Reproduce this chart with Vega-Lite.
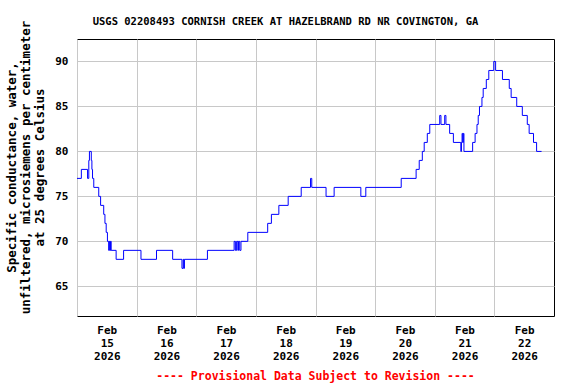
{
  "$schema": "https://vega.github.io/schema/vega-lite/v6.json",
  "width": 477,
  "height": 277,
  "autosize": {"type": "none"},
  "padding": {"left": 77, "top": 39, "right": 22, "bottom": 68},
  "background": "white",
  "title": {
    "text": "USGS 02208493 CORNISH CREEK AT HAZELBRAND RD NR COVINGTON, GA",
    "font": "DejaVu Sans Mono",
    "fontWeight": "bold",
    "fontSize": 10.5,
    "color": "black",
    "anchor": "middle",
    "dx": -30,
    "dy": 20,
    "offset": 13
  },
  "config": {
    "view": {"stroke": "black", "strokeWidth": 1},
    "axis": {
      "labelFont": "DejaVu Sans Mono",
      "labelFontWeight": "bold",
      "labelFontSize": 11,
      "labelColor": "black",
      "titleFont": "DejaVu Sans Mono",
      "titleFontWeight": "bold",
      "titleColor": "black",
      "gridColor": "#c8c8c8",
      "gridWidth": 1,
      "gridOpacity": 1,
      "domain": false,
      "ticks": false
    }
  },
  "data": {
    "values": [
      {"t": "2026-02-15T00:00", "v": 77},
      {"t": "2026-02-15T01:45", "v": 78},
      {"t": "2026-02-15T04:15", "v": 77},
      {"t": "2026-02-15T04:45", "v": 79},
      {"t": "2026-02-15T05:00", "v": 80},
      {"t": "2026-02-15T05:45", "v": 79},
      {"t": "2026-02-15T06:00", "v": 78},
      {"t": "2026-02-15T06:15", "v": 77},
      {"t": "2026-02-15T06:45", "v": 76},
      {"t": "2026-02-15T08:45", "v": 75},
      {"t": "2026-02-15T09:30", "v": 74},
      {"t": "2026-02-15T10:45", "v": 73},
      {"t": "2026-02-15T11:15", "v": 72},
      {"t": "2026-02-15T11:45", "v": 71},
      {"t": "2026-02-15T12:15", "v": 70},
      {"t": "2026-02-15T12:45", "v": 69},
      {"t": "2026-02-15T13:00", "v": 70},
      {"t": "2026-02-15T13:15", "v": 69},
      {"t": "2026-02-15T13:30", "v": 70},
      {"t": "2026-02-15T13:45", "v": 69},
      {"t": "2026-02-15T15:45", "v": 68},
      {"t": "2026-02-15T18:45", "v": 69},
      {"t": "2026-02-16T01:45", "v": 68},
      {"t": "2026-02-16T08:00", "v": 69},
      {"t": "2026-02-16T14:30", "v": 68},
      {"t": "2026-02-16T18:15", "v": 67},
      {"t": "2026-02-16T18:45", "v": 68},
      {"t": "2026-02-16T19:00", "v": 67},
      {"t": "2026-02-16T19:15", "v": 68},
      {"t": "2026-02-17T04:30", "v": 69},
      {"t": "2026-02-17T15:15", "v": 70},
      {"t": "2026-02-17T15:45", "v": 69},
      {"t": "2026-02-17T16:15", "v": 70},
      {"t": "2026-02-17T16:45", "v": 69},
      {"t": "2026-02-17T17:00", "v": 70},
      {"t": "2026-02-17T17:30", "v": 69},
      {"t": "2026-02-17T18:00", "v": 70},
      {"t": "2026-02-17T20:45", "v": 71},
      {"t": "2026-02-18T04:45", "v": 72},
      {"t": "2026-02-18T06:15", "v": 73},
      {"t": "2026-02-18T09:15", "v": 74},
      {"t": "2026-02-18T13:00", "v": 75},
      {"t": "2026-02-18T18:15", "v": 76},
      {"t": "2026-02-18T22:00", "v": 77},
      {"t": "2026-02-18T22:30", "v": 76},
      {"t": "2026-02-19T04:15", "v": 75},
      {"t": "2026-02-19T07:30", "v": 76},
      {"t": "2026-02-19T18:15", "v": 75},
      {"t": "2026-02-19T20:15", "v": 76},
      {"t": "2026-02-20T10:30", "v": 77},
      {"t": "2026-02-20T16:30", "v": 78},
      {"t": "2026-02-20T17:45", "v": 79},
      {"t": "2026-02-20T19:00", "v": 80},
      {"t": "2026-02-20T19:45", "v": 81},
      {"t": "2026-02-20T21:00", "v": 82},
      {"t": "2026-02-20T22:00", "v": 83},
      {"t": "2026-02-21T02:00", "v": 84},
      {"t": "2026-02-21T02:30", "v": 83},
      {"t": "2026-02-21T04:00", "v": 84},
      {"t": "2026-02-21T04:30", "v": 83},
      {"t": "2026-02-21T06:00", "v": 82},
      {"t": "2026-02-21T07:30", "v": 81},
      {"t": "2026-02-21T10:30", "v": 80},
      {"t": "2026-02-21T10:45", "v": 81},
      {"t": "2026-02-21T11:00", "v": 82},
      {"t": "2026-02-21T11:15", "v": 81},
      {"t": "2026-02-21T11:30", "v": 82},
      {"t": "2026-02-21T11:45", "v": 80},
      {"t": "2026-02-21T15:15", "v": 81},
      {"t": "2026-02-21T16:15", "v": 82},
      {"t": "2026-02-21T17:00", "v": 83},
      {"t": "2026-02-21T17:30", "v": 84},
      {"t": "2026-02-21T18:00", "v": 85},
      {"t": "2026-02-21T19:00", "v": 86},
      {"t": "2026-02-21T19:30", "v": 87},
      {"t": "2026-02-21T20:45", "v": 88},
      {"t": "2026-02-21T21:45", "v": 89},
      {"t": "2026-02-21T23:45", "v": 90},
      {"t": "2026-02-22T00:30", "v": 89},
      {"t": "2026-02-22T03:15", "v": 88},
      {"t": "2026-02-22T06:00", "v": 87},
      {"t": "2026-02-22T06:45", "v": 86},
      {"t": "2026-02-22T09:00", "v": 85},
      {"t": "2026-02-22T11:15", "v": 84},
      {"t": "2026-02-22T13:15", "v": 83},
      {"t": "2026-02-22T14:00", "v": 82},
      {"t": "2026-02-22T15:45", "v": 81},
      {"t": "2026-02-22T17:00", "v": 80},
      {"t": "2026-02-22T19:00", "v": 80}
    ]
  },
  "mark": {"type": "line", "interpolate": "step-after", "color": "#0000ff", "strokeWidth": 1, "clip": true},
  "encoding": {
    "x": {
      "field": "t",
      "type": "temporal",
      "scale": {
        "domain": [
          {"year": 2026, "month": "feb", "date": 15},
          {"year": 2026, "month": "feb", "date": 23}
        ],
        "nice": false
      },
      "axis": {
        "values": [
          {"year": 2026, "month": "feb", "date": 15},
          {"year": 2026, "month": "feb", "date": 16},
          {"year": 2026, "month": "feb", "date": 17},
          {"year": 2026, "month": "feb", "date": 18},
          {"year": 2026, "month": "feb", "date": 19},
          {"year": 2026, "month": "feb", "date": 20},
          {"year": 2026, "month": "feb", "date": 21},
          {"year": 2026, "month": "feb", "date": 22}
        ],
        "labelExpr": "[timeFormat(datum.value, '%b'), timeFormat(datum.value, '%d'), timeFormat(datum.value, '%Y')]",
        "labelOffset": 29.8,
        "labelPadding": 8,
        "labelLineHeight": 13,
        "labelBaseline": "top",
        "labelFlush": false,
        "labelOverlap": false,
        "title": "---- Provisional Data Subject to Revision ----",
        "titleColor": "#ff0000",
        "titleFontSize": 11.5,
        "titlePadding": 9,
        "titleX": 238
      }
    },
    "y": {
      "field": "v",
      "type": "quantitative",
      "scale": {"domain": [61.7, 92.5], "nice": false, "zero": false},
      "axis": {
        "values": [65, 70, 75, 80, 85, 90],
        "labelPadding": 9,
        "title": ["Specific conductance, water,", "unfiltered, microsiemens per centimeter", "at 25 degrees Celsius"],
        "titleFontSize": 12.5,
        "titleLineHeight": 14,
        "titleAngle": -90,
        "titleAlign": "center",
        "titleBaseline": "top",
        "titleX": -72,
        "titleY": 128
      }
    }
  }
}
